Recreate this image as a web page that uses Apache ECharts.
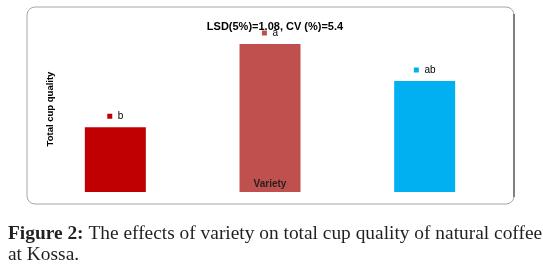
<!DOCTYPE html>
<html>
<head>
<meta charset="utf-8">
<script src="https://cdn.jsdelivr.net/npm/echarts@6/dist/echarts.min.js"></script>
<style>
  html, body { margin: 0; padding: 0; background: #fff; }
  #chart { width: 543px; height: 273px; }
</style>
</head>
<body>
<div id="chart"></div>
<script>
// data
var varieties = ['V1', 'V2', 'V3'];
var cupQuality = [79.5, 84, 82];
var letters = ['b', 'a', 'ab'];
var barColors = ['#c00000', '#c0504d', '#00b0f0'];

var chart = echarts.init(document.getElementById('chart'));

var barData = cupQuality.map(function (v, i) {
  return {
    value: v,
    itemStyle: { color: barColors[i] },
    label: {
      formatter: '{sq|}  ' + letters[i],
      rich: {
        sq: { width: 5, height: 5, backgroundColor: barColors[i] }
      }
    }
  };
});

var option = {
  animation: false,
  title: {
    text: 'LSD(5%)=1.08, CV (%)=5.4',
    left: 270,
    textAlign: 'center',
    top: 16,
    textStyle: { fontFamily: 'Liberation Sans', fontSize: 11, fontWeight: 'bold', color: '#000' }
  },
  grid: { left: 38, width: 464, top: 44, height: 148 },
  xAxis: {
    type: 'category',
    data: varieties,
    name: 'Variety',
    nameLocation: 'middle',
    nameGap: -13,
    nameTextStyle: { fontFamily: 'Liberation Sans', fontSize: 10, fontWeight: 'bold', color: '#222' },
    z: 10,
    axisLine: { show: false },
    axisTick: { show: false },
    axisLabel: { show: false }
  },
  yAxis: {
    type: 'value',
    min: 76,
    max: 84,
    axisLine: { show: false },
    axisTick: { show: false },
    axisLabel: { show: false },
    splitLine: { show: false }
  },
  series: [{
    type: 'bar',
    data: barData,
    barWidth: 61,
    label: {
      show: true,
      position: 'top',
      distance: 6,
      fontFamily: 'Liberation Sans',
      fontSize: 10,
      color: '#000'
    }
  }],
  graphic: [
    {
      type: 'rect',
      shape: { x: 27, y: 7, width: 487, height: 197, r: 8 },
      style: { fill: 'none', stroke: '#a6a6a6', lineWidth: 1 },
      z: -1
    },
    {
      type: 'line',
      shape: { x1: 514, y1: 14, x2: 514, y2: 197 },
      style: { stroke: '#808080', lineWidth: 2 },
      z: -1
    },
    {
      // y-axis title
      type: 'text',
      x: 50,
      y: 109,
      rotation: Math.PI / 2,
      style: {
        text: 'Total cup quality',
        font: 'bold 9.5px "Liberation Sans"',
        fill: '#000',
        align: 'center',
        verticalAlign: 'middle'
      }
    },
    {
      type: 'text',
      left: 8,
      top: 223,
      style: {
        text: '{b|Figure 2:} The effects of variety on total cup quality of natural coffee\nat Kossa.',
        font: '19.4px "Liberation Serif"',
        fill: '#231f20',
        lineHeight: 21,
        rich: {
          b: { font: 'bold 19.4px "Liberation Serif"', fill: '#231f20' }
        }
      }
    }
  ]
};

chart.setOption(option);
</script>
</body>
</html>
